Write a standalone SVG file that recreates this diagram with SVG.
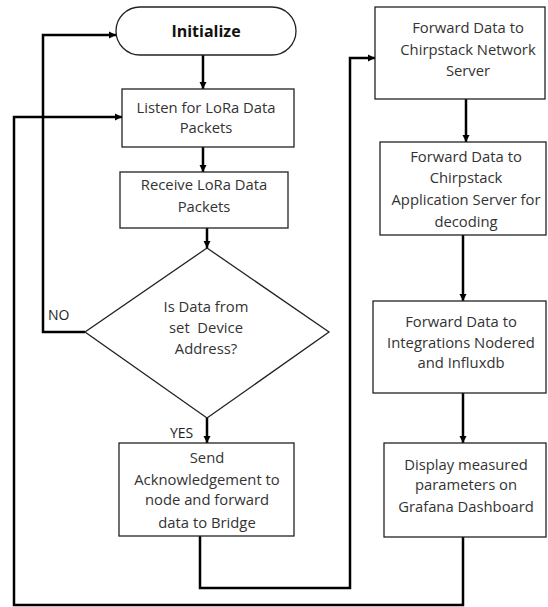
<svg xmlns="http://www.w3.org/2000/svg" width="548" height="607" viewBox="0 0 548 607">
<defs>
<marker id="ah" viewBox="0 0 10 10" refX="10" refY="5" markerWidth="3" markerHeight="3" markerUnits="strokeWidth" orient="auto">
<path d="M0,0 L10,5 L0,10 z" fill="#000"/>
</marker>
<style>
.box{fill:#fff;stroke:#222;stroke-width:1.3}
.t{font-family:"Open Sans","Liberation Sans",sans-serif;font-size:14.8px;fill:#333;text-anchor:middle}
.b{font-weight:bold;font-size:16px;fill:#111}
.lbl{font-family:"Open Sans","Liberation Sans",sans-serif;font-size:14px;fill:#222}
.c{fill:none;stroke:#000;stroke-width:2.5}
.ca{fill:none;stroke:#000;stroke-width:2.5;marker-end:url(#ah)}
</style>
</defs>
<rect width="548" height="607" fill="#fff"/>
<g id="connectors">
<path class="ca" d="M203,55 V89"/>
<path class="ca" d="M203,147 V172"/>
<path class="ca" d="M207,228 V248"/>
<path class="ca" d="M207,418 V443"/>
<path class="ca" d="M85,332 H43 V35 H116"/>
<path class="ca" d="M463,537 V605 H14 V117 H122"/>
<path class="ca" d="M200,536 V588 H350 V58 H375"/>
<path class="ca" d="M466,99 V142"/>
<path class="ca" d="M463,235 V301"/>
<path class="ca" d="M463,393 V443"/>
</g>
<g id="initialize">
<rect class="box" x="116" y="7" width="180" height="48" rx="24" ry="24"/>
<text class="t b" x="206" y="37">Initialize</text>
</g>
<g id="listen">
<rect class="box" x="122" y="89" width="172" height="58"/>
<text class="t" x="206" y="113">Listen for LoRa Data</text>
<text class="t" x="206" y="133">Packets</text>
</g>
<g id="receive">
<rect class="box" x="120" y="172" width="168" height="56"/>
<text class="t" x="204" y="190">Receive LoRa Data</text>
<text class="t" x="204" y="212">Packets</text>
</g>
<g id="decision">
<polygon class="box" points="207,248 329,332 207,418 85,332"/>
<text class="t" x="206" y="312">Is Data from</text>
<text class="t" x="206" y="333" xml:space="preserve">set  Device</text>
<text class="t" x="206" y="354">Address?</text>
<text class="lbl" x="48" y="320">NO</text>
<text class="lbl" x="170" y="438">YES</text>
</g>
<g id="send">
<rect class="box" x="119" y="443" width="175" height="93"/>
<text class="t" x="207" y="463">Send</text>
<text class="t" x="207" y="485">Acknowledgement to</text>
<text class="t" x="207" y="505">node and forward</text>
<text class="t" x="207" y="528">data to Bridge</text>
</g>
<g id="network-server">
<rect class="box" x="375" y="7" width="170" height="92"/>
<text class="t" x="468" y="33">Forward Data to</text>
<text class="t" x="468" y="55">Chirpstack Network</text>
<text class="t" x="468" y="76">Server</text>
</g>
<g id="app-server">
<rect class="box" x="380" y="142" width="166" height="93"/>
<text class="t" x="466" y="162">Forward Data to</text>
<text class="t" x="466" y="183">Chirpstack</text>
<text class="t" x="466" y="205">Application Server for</text>
<text class="t" x="466" y="227">decoding</text>
</g>
<g id="integrations">
<rect class="box" x="373" y="301" width="173" height="92"/>
<text class="t" x="461" y="327">Forward Data to</text>
<text class="t" x="461" y="348">Integrations Nodered</text>
<text class="t" x="461" y="368">and Influxdb</text>
</g>
<g id="grafana">
<rect class="box" x="384" y="443" width="162" height="94"/>
<text class="t" x="466" y="470">Display measured</text>
<text class="t" x="466" y="490">parameters on</text>
<text class="t" x="466" y="512">Grafana Dashboard</text>
</g>
</svg>
